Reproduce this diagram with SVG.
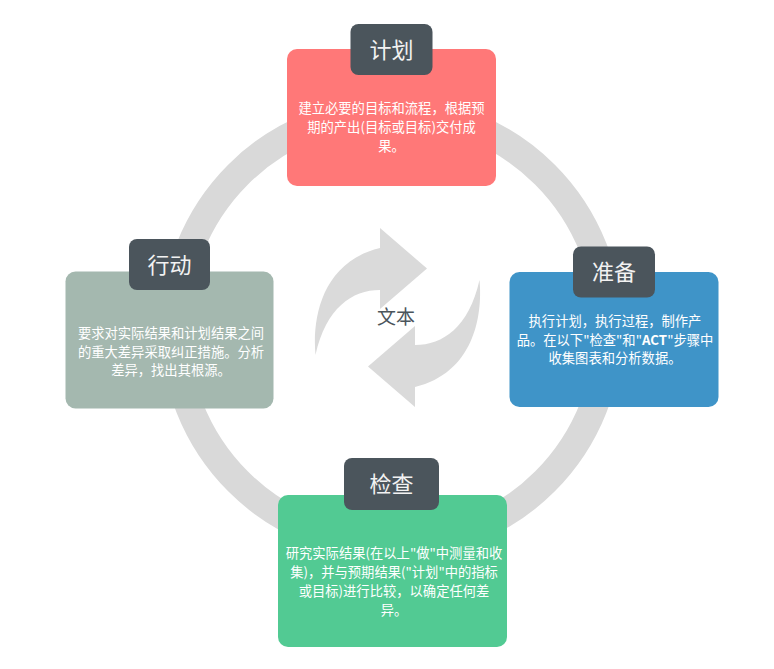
<svg xmlns="http://www.w3.org/2000/svg" width="774" height="669" viewBox="0 0 774 669">
<style>
.box{stroke:none}
.tab{fill:#4B555C}
.title{font-family:"Noto Sans CJK SC","Liberation Sans",sans-serif;font-size:22px;fill:#F2F2F2;text-anchor:middle}
.body{font-family:"Noto Sans CJK SC","Liberation Sans",sans-serif;font-size:13.3px;fill:#FFFFFF;text-anchor:middle}
.arrow{fill:#DADADA}
.center{font-family:"Noto Sans CJK SC","Liberation Sans",sans-serif;font-size:19px;fill:#4B555C;text-anchor:middle}
</style>
<defs>
<path id="arr" d="M 380 228 L 427 268.5 L 380 309 L 380 290 C 352 290 326 308 315.5 355 C 312 318 322 262 380 248 Z"/>
</defs>
<rect width="774" height="669" fill="#FFFFFF"/>
<g id="connectors">
<circle cx="391.5" cy="328" r="217" fill="none" stroke="#D9D9D9" stroke-width="28"/>
</g>
<g id="center">
<use href="#arr" class="arrow"/>
<use href="#arr" class="arrow" transform="rotate(180 397.5 317.5)"/>
<text class="center" x="396" y="324">文本</text>
</g>
<g id="plan">
<rect class="box" x="287" y="49" width="209" height="137" rx="10" fill="#FF7878"/>
<rect class="tab" x="350.5" y="24" width="82" height="51" rx="8"/>
<text class="title" x="391.5" y="58">计划</text>
<text class="body" x="391.5" y="113">建立必要的目标和流程，根据预</text>
<text class="body" x="391.5" y="132">期的产出(目标或目标)交付成</text>
<text class="body" x="391.5" y="151">果。</text>
</g>
<g id="prepare">
<rect class="box" x="509.5" y="272" width="209" height="135" rx="10" fill="#3F94C8"/>
<rect class="tab" x="573" y="246.5" width="82" height="51" rx="8"/>
<text class="title" x="614" y="280">准备</text>
<text class="body" x="615" y="326">执行计划，执行过程，制作产</text>
<text class="body" x="615" y="345">品。在以下"检查"和"<tspan font-weight="bold">ACT</tspan>"步骤中</text>
<text class="body" x="615" y="363">收集图表和分析数据。</text>
</g>
<g id="act">
<rect class="box" x="65.5" y="271.5" width="208" height="137" rx="10" fill="#A4B8AF"/>
<rect class="tab" x="129" y="239" width="81" height="51" rx="8"/>
<text class="title" x="169.5" y="273">行动</text>
<text class="body" x="171" y="338">要求对实际结果和计划结果之间</text>
<text class="body" x="171" y="357">的重大差异采取纠正措施。分析</text>
<text class="body" x="171" y="375">差异，找出其根源。</text>
</g>
<g id="check">
<rect class="box" x="278" y="495" width="229" height="152" rx="10" fill="#52CA93"/>
<rect class="tab" x="344" y="458" width="95" height="52" rx="8"/>
<text class="title" x="391.5" y="492">检查</text>
<text class="body" x="394" y="558">研究实际结果(在以上"做"中测量和收</text>
<text class="body" x="394" y="577">集)，并与预期结果("计划"中的指标</text>
<text class="body" x="394" y="596">或目标)进行比较，以确定任何差</text>
<text class="body" x="394" y="615">异。</text>
</g>
</svg>
